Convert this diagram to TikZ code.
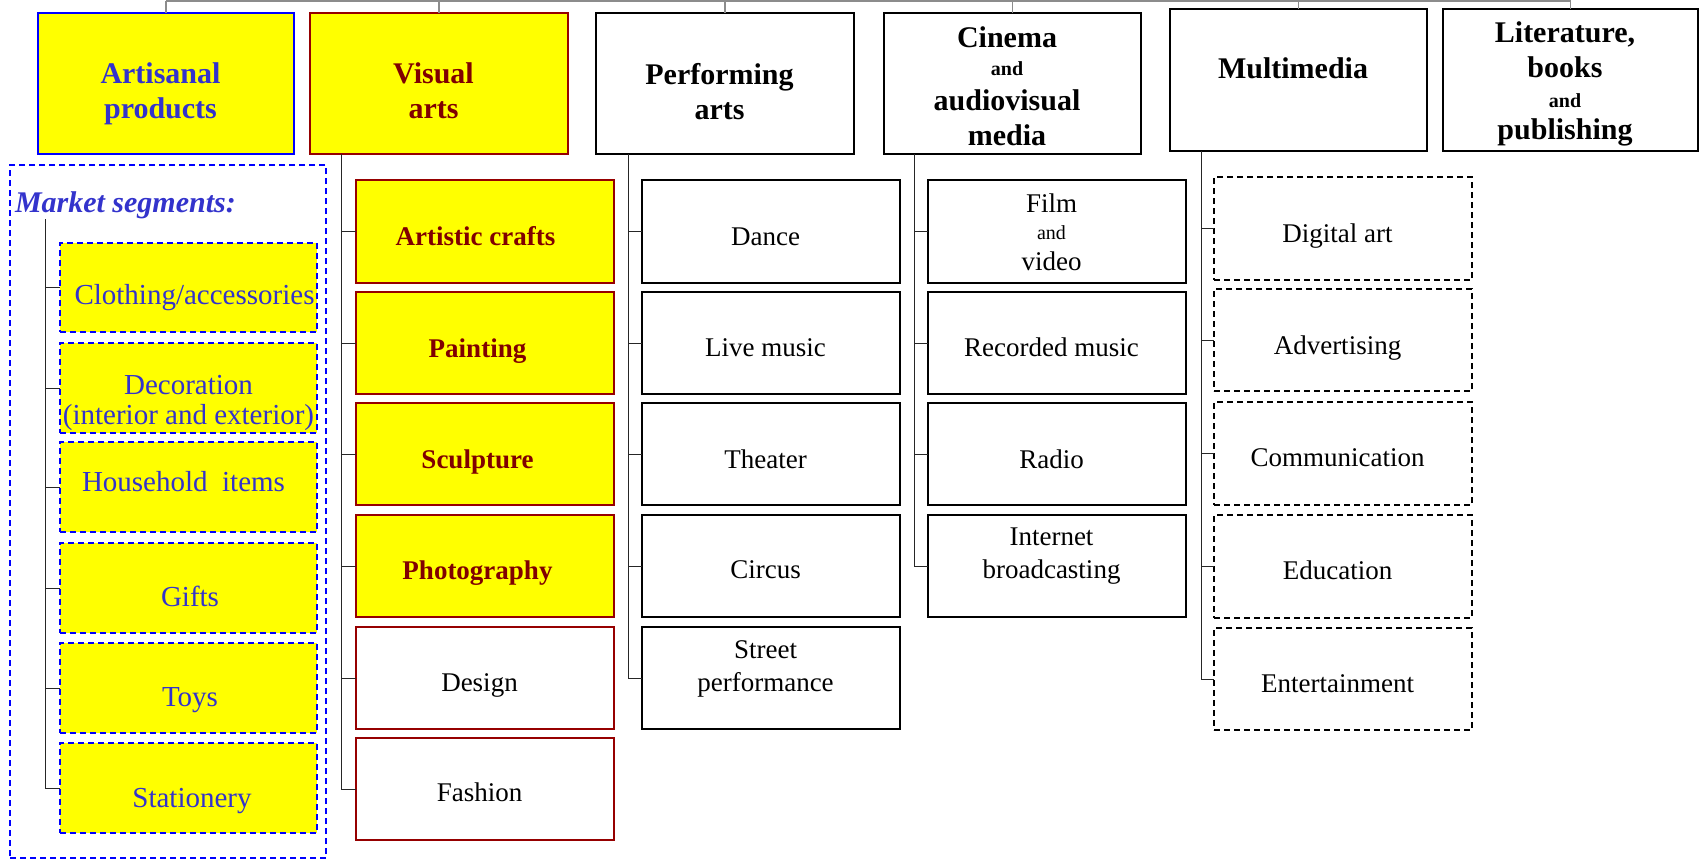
\documentclass[tikz,border=0pt]{standalone}
\usepackage{fontspec}
\setmainfont{Liberation Serif}
\definecolor{mblue}{RGB}{51,51,204}
\definecolor{vred}{RGB}{128,0,0}
\definecolor{vredb}{RGB}{150,0,0}
\definecolor{myyellow}{RGB}{255,255,0}
\newcommand\mkcell[9]{%
 \node[#2, minimum width={#5-#3}, minimum height={#6-#4}] (#1) at ({(#3+#5)/2},{(#4+#6)/2}) {};
 \node[#7] (#1t) at ({(#3+#5)/2},#9) {#8};}
\tikzset{
 base/.style={inner sep=0pt, outer sep=0pt},
 topbox/.style={base, draw=black, line width=2pt},
 artbox/.style={topbox, draw=blue, fill=myyellow},
 visbox/.style={topbox, draw=vredb, fill=myyellow},
 toptext/.style={base, align=center, xshift=-5.5pt, font=\fontsize{30}{35}\selectfont\bfseries},
 arttext/.style={toptext, text=mblue},
 vistext/.style={toptext, text=vred},
 topone/.style={text height=20pt, text depth=0pt},
 subbox/.style={base, draw=black, line width=2pt},
 vsub/.style={subbox, draw=vredb},
 vsubY/.style={vsub, fill=myyellow},
 subtext/.style={base, align=center, xshift=-5.5pt, font=\fontsize{27}{33}\selectfont},
 one/.style={text height=18pt, text depth=0pt},
 vsubtext/.style={subtext, one, xshift=-2pt, font=\fontsize{27}{33}\selectfont\bfseries, text=vred},
 mbox/.style={base, draw=blue, line width=1.5pt, dash pattern=on 6pt off 4pt, fill=myyellow},
 mtext/.style={base, align=center, text=mblue, font=\fontsize{29}{30}\selectfont},
 mone/.style={text height=19pt, text depth=0pt},
 ddbox/.style={base, draw=black, line width=1.5pt, dash pattern=on 6pt off 4pt},
 tree/.style={draw=black!85, line width=1pt},
 busline/.style={draw=black!45, line width=1.5pt},
}
\begin{document}
\begin{tikzpicture}[x=1pt,y=-1pt]
\useasboundingbox (0,0) rectangle (1700,860);
% top row
\mkcell{art}{artbox}{38}{13}{294}{154}{arttext}{Artisanal\\products}{94}
\mkcell{vis}{visbox}{310}{13}{568}{154}{vistext}{Visual\\arts}{91}
\mkcell{perf}{topbox}{596}{13}{854}{154}{toptext}{Performing\\arts}{92}
\mkcell{cin}{topbox}{884}{13}{1141}{154}{toptext}{Cinema\\[-6.5pt]{\fontsize{20}{22}\selectfont and}\\audiovisual\\media}{86}
\mkcell{mm}{topbox}{1170}{9}{1427}{151}{toptext,topone}{Multimedia}{68}
\mkcell{lit}{topbox}{1443}{9}{1698}{151}{toptext}{Literature,\\books\\[-5.5pt]{\fontsize{20}{22}\selectfont and}\\[-3pt]publishing}{84}
% bus
\coordinate (bus) at (0,1);
\draw[busline] (art.north |- bus) -- (lit.north |- bus);
\foreach \n in {art,vis,perf,cin,mm,lit} \draw[busline] (\n.north) -- (\n.north |- bus);
% market segments
\node[base, draw=blue, line width=1.5pt, dash pattern=on 6pt off 4pt, minimum width=316, minimum height=693] (mseg) at (168,511.5) {};
\node[base, anchor=west, text=mblue, font=\fontsize{30}{34}\selectfont\bfseries\itshape, text height=20pt, text depth=0pt] (msegt) at (15,202) {Market segments:};
\mkcell{m1}{mbox}{60}{243}{317}{332}{mtext,mone,xshift=6pt}{Clothing/accessories}{295}
\mkcell{m2}{mbox}{60}{343}{317}{433}{mtext}{Decoration\\(interior and exterior)}{403}
\mkcell{m3}{mbox}{60}{442}{317}{532}{mtext,mone,xshift=-5pt}{Household~ items}{482}
\mkcell{m4}{mbox}{60}{543}{317}{633}{mtext,mone,xshift=1.5pt}{Gifts}{597}
\mkcell{m5}{mbox}{60}{643}{317}{733}{mtext,mone,xshift=1.5pt}{Toys}{697}
\mkcell{m6}{mbox}{60}{743}{317}{833}{mtext,mone,xshift=3.5pt}{Stationery}{798}
\coordinate (mtop) at (45.5,219);
\foreach \i in {1,...,6} \draw[tree] (mtop) |- (m\i.west);
% visual arts
\mkcell{v1}{vsubY}{356}{180}{614}{283}{vsubtext,xshift=-2pt}{Artistic crafts}{236}
\mkcell{v2}{vsubY}{356}{292}{614}{394}{vsubtext}{Painting}{348}
\mkcell{v3}{vsubY}{356}{403}{614}{505}{vsubtext}{Sculpture}{459}
\mkcell{v4}{vsubY}{356}{515}{614}{617}{vsubtext}{Photography}{570}
\mkcell{v5}{vsub}{356}{627}{614}{729}{subtext,one}{Design}{682}
\mkcell{v6}{vsub}{356}{738}{614}{840}{subtext,one}{Fashion}{792}
\coordinate (vtop) at (341.5,154);
\foreach \i in {1,...,6} \draw[tree] (vtop) |- (v\i.west);
% performing arts
\mkcell{p1}{subbox}{642}{180}{900}{283}{subtext,one}{Dance}{236}
\mkcell{p2}{subbox}{642}{292}{900}{394}{subtext,one}{Live music}{347}
\mkcell{p3}{subbox}{642}{403}{900}{505}{subtext,one}{Theater}{459}
\mkcell{p4}{subbox}{642}{515}{900}{617}{subtext,one}{Circus}{569}
\mkcell{p5}{subbox}{642}{627}{900}{729}{subtext}{Street\\performance}{669}
\coordinate (ptop) at (628,154);
\foreach \i in {1,...,5} \draw[tree] (ptop) |- (p\i.west);
% cinema
\mkcell{c1}{subbox}{928}{180}{1186}{283}{subtext}{Film\\[-5.5pt]{\fontsize{20}{22}\selectfont and}\\[-2.5pt]video}{232}
\mkcell{c2}{subbox}{928}{292}{1186}{394}{subtext,one}{Recorded music}{347}
\mkcell{c3}{subbox}{928}{403}{1186}{505}{subtext,one}{Radio}{459}
\mkcell{c4}{subbox}{928}{515}{1186}{617}{subtext}{Internet\\broadcasting}{556}
\coordinate (ctop) at (914,154);
\foreach \i in {1,...,4} \draw[tree] (ctop) |- (c\i.west);
% multimedia
\mkcell{d1}{ddbox}{1214}{177}{1472}{280}{subtext,one}{Digital art}{233}
\mkcell{d2}{ddbox}{1214}{289}{1472}{391}{subtext,one}{Advertising}{345}
\mkcell{d3}{ddbox}{1214}{402}{1472}{505}{subtext,one}{Communication}{457}
\mkcell{d4}{ddbox}{1214}{515}{1472}{618}{subtext,one}{Education}{570}
\mkcell{d5}{ddbox}{1214}{628}{1472}{730}{subtext,one}{Entertainment}{683}
\coordinate (dtop) at (1201,151);
\foreach \i in {1,...,5} \draw[tree] (dtop) |- (d\i.west);
\end{tikzpicture}
\end{document}
